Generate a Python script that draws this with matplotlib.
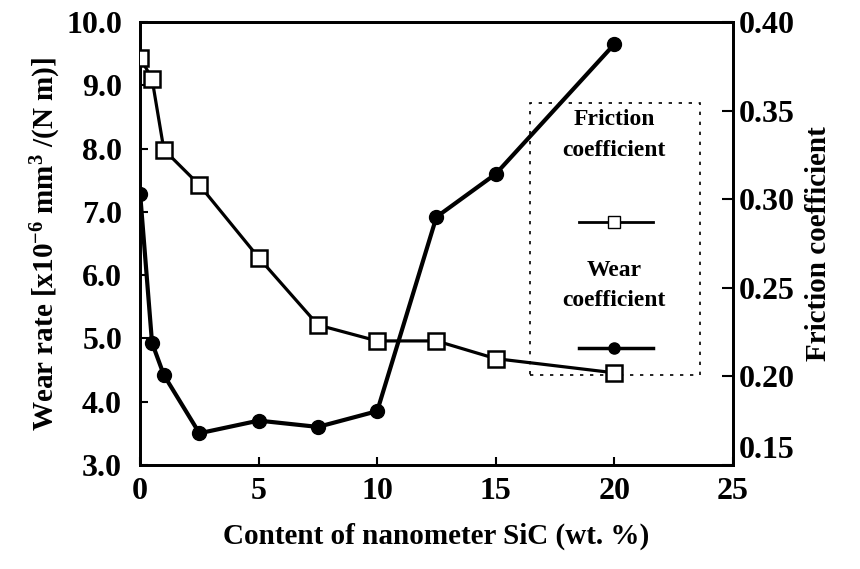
import matplotlib
matplotlib.use("Agg")
import matplotlib.pyplot as plt
from matplotlib.lines import Line2D
from matplotlib.patches import Rectangle

# data
sic_friction = [0, 0.5, 1, 2.5, 5, 7.5, 10, 12.5, 15, 20]
friction = [0.380, 0.368, 0.328, 0.308, 0.267, 0.229, 0.220, 0.220, 0.210, 0.202]

sic_wear = [0, 0.5, 1, 2.5, 5, 7.5, 10, 12.5, 15, 20]
wear = [7.28, 4.93, 4.42, 3.50, 3.70, 3.60, 3.85, 6.92, 7.60, 9.65]

left_ticks = [3.0, 4.0, 5.0, 6.0, 7.0, 8.0, 9.0, 10.0]
right_ticks = [0.15, 0.20, 0.25, 0.30, 0.35, 0.40]
x_ticks = [0, 5, 10, 15, 20, 25]

plt.rcParams['font.family'] = ['Liberation Serif', 'DejaVu Serif']
plt.rcParams['font.weight'] = 'bold'
plt.rcParams['axes.labelweight'] = 'bold'
plt.rcParams['mathtext.default'] = 'regular'

fig = plt.figure(figsize=(8.6, 5.69), dpi=100)
ax = fig.add_axes([0.163, 0.183, 0.689, 0.778])
ax2 = ax.twinx()

# wear rate on the left axis
ax.plot(sic_wear, wear, color='black', lw=3, marker='o', ms=10,
        markerfacecolor='black', zorder=3)
ax.set_xlim(0, 25)
ax.set_ylim(3.0, 10.0)
ax.set_xticks(x_ticks)
ax.set_yticks(left_ticks)
ax.set_yticklabels(['%.1f' % v for v in left_ticks])
ax.tick_params(direction='in', labelsize=23, length=6, width=1.5)
ax.tick_params(axis='x', pad=9)
ax.tick_params(axis='y', pad=13)
ax.set_xlabel('Content of nanometer SiC (wt. %)', fontsize=21, labelpad=12)
ax.set_ylabel('Wear rate [x10$^{-6}$ mm$^{3}$ /(N m)]', fontsize=21, labelpad=2)

# friction coefficient on the right axis
ax2.plot(sic_friction, friction, color='black', lw=2.3, marker='s', ms=11,
         markerfacecolor='white', markeredgewidth=1.8, zorder=3)
ax2.set_ylim(0.15, 0.40)
ax2.set_yticks(right_ticks)
ax2.set_yticklabels(['%.2f' % v for v in right_ticks])
ax2.tick_params(direction='in', labelsize=23, length=8, width=1.5, pad=4)
ax2.set_ylabel('Friction coefficient', fontsize=21, labelpad=8)
# the 0.15 label sits a little higher than the tick in the reference
ax2.get_yticklabels()[0].set_va('bottom')

for a in (ax, ax2):
    for s in a.spines.values():
        s.set_linewidth(2)

# hand-made legend: label above its sample line
ax2.add_patch(Rectangle((0.658, 0.203), 0.286, 0.614, transform=ax.transAxes,
                        fill=False, ls=(0, (2, 4)), lw=1.2, color='black'))
ax2.text(0.8, 0.745, 'Friction\ncoefficient', transform=ax.transAxes,
         ha='center', va='center', fontsize=17, linespacing=1.6)
ax2.add_line(Line2D([0.74, 0.8, 0.865], [0.548, 0.548, 0.548], transform=ax.transAxes,
                    color='black', lw=2, marker='s', ms=9, markevery=[1],
                    markerfacecolor='white'))
ax2.text(0.8, 0.405, 'Wear\ncoefficient', transform=ax.transAxes,
         ha='center', va='center', fontsize=17, linespacing=1.6)
ax2.add_line(Line2D([0.74, 0.8, 0.865], [0.264, 0.264, 0.264], transform=ax.transAxes,
                    color='black', lw=2.5, marker='o', ms=8, markevery=[1],
                    markerfacecolor='black'))

fig.savefig('out.png', dpi=100)
